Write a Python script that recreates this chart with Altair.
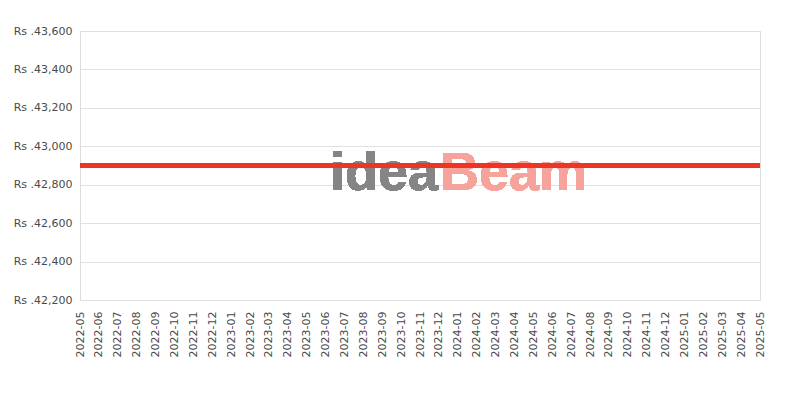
import altair as alt
import pandas as pd

months = [f"{y}-{m:02d}" for y, m in
          [(2022, m) for m in range(5, 13)] + [(2023, m) for m in range(1, 13)] +
          [(2024, m) for m in range(1, 13)] + [(2025, m) for m in range(1, 6)]]
prices = [42900] * len(months)
y_ticks = [42200, 42400, 42600, 42800, 43000, 43200, 43400, 43600]

df = pd.DataFrame({"month": months, "price": prices})
base = alt.Chart(df)

x = alt.X("month:O", sort=None, scale=alt.Scale(type="point", padding=0),
          axis=alt.Axis(title=None, labelAngle=-90, ticks=False, domain=False,
                        labelFont="DejaVu Sans", labelFontSize=11, labelColor="#4a4a4a",
                        labelPadding=11, grid=False))
y = alt.Y("price:Q", scale=alt.Scale(domain=[42200, 43600], nice=False, zero=False),
          axis=alt.Axis(title=None, values=y_ticks, ticks=False, domain=False,
                        labelExpr="'Rs .' + format(datum.value, ',')",
                        labelFont="DejaVu Sans", labelFontSize=11, labelColor="#4a4a4a",
                        labelPadding=8, gridColor="#e0e0e0"))

wm1 = base.mark_text(font="Liberation Sans", fontWeight="bold", fontSize=54,
                     align="right", baseline="alphabetic", color="#858585").encode(
    x=alt.value(358), y=alt.value(159), text=alt.value("idea"))
wm2 = base.mark_text(font="Liberation Sans", fontWeight="bold", fontSize=54,
                     align="left", baseline="alphabetic", color="#f5a39b").encode(
    x=alt.value(360), y=alt.value(159), text=alt.value("Beam"))

line = base.mark_line(color="#ee3424", strokeWidth=5).encode(x=x, y=y)

chart = alt.layer(wm1, wm2, line).properties(
    width=680, height=269,
    padding={"left": 5, "top": 17, "right": 5, "bottom": 5},
).configure_view(stroke="#dddddd").configure(background="white")

chart.save("out.html", embed_options={"renderer": "svg", "actions": False})
